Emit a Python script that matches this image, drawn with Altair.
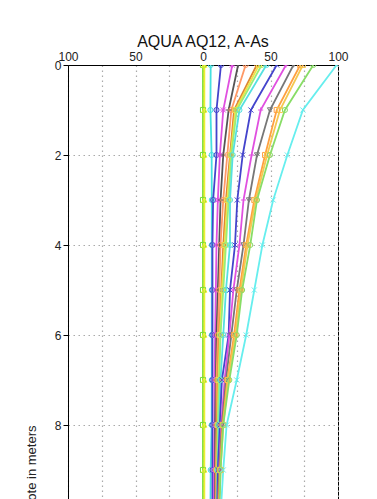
import altair as alt
import pandas as pd

depths = [0, 1, 2, 3, 4, 5, 6, 7, 8, 9, 10, 11, 12]

series_names = ["S01", "S02", "S03", "S04", "S05", "S06", "S07", "S08", "S09",
                "S10", "S11", "S12", "S13", "S14", "S15", "S16", "S17", "S18"]

s01 = [0, 0, 0, 0, 0, 0, 0, 0, 0, 0, 0, 0, 0]
s02 = [1, 1, 1, 1, 1, 1, 1, 1, 1, 1, 1, 1, 1]
s03 = [5.7, 5.5, 6.4, 6.5, 6.5, 6.5, 6.5, 6.5, 6.4, 5.7, 5.5, 5.5, 5.5]
s04 = [13.3, 10, 10, 7.5, 7, 7, 7, 7, 7, 7, 7, 7, 7]
s05 = [21.7, 15, 12.5, 11, 10, 9.5, 9, 8.5, 8.5, 8, 8, 8, 8]
s06 = [26, 19, 15, 13, 12, 11, 10, 9.5, 9, 9, 9, 9, 9]
s07 = [31.6, 21, 18, 15, 13, 12, 11, 10, 10, 9.5, 9.5, 9, 9]
s08 = [39.8, 23, 20, 17, 15, 13.5, 12, 11, 10.5, 10, 10, 10, 10]
s09 = [41.5, 24, 20.5, 18, 16, 14, 12.5, 11.5, 11, 10.5, 10, 10, 10]
s10 = [43.5, 25, 21, 19, 17, 15, 13, 12, 11, 10.5, 10, 10, 10]
s11 = [47, 27, 22, 20, 20, 17, 15, 13, 12, 11, 10.5, 10, 10]
s12 = [54.6, 35.5, 29.4, 25.4, 23.7, 20, 19, 14, 12.5, 11, 10.5, 10, 10]
s13 = [61.5, 42.7, 36, 30, 27, 22.5, 19.5, 16, 13.5, 12, 11, 10.5, 10]
s14 = [67, 49.6, 40, 34, 30, 25, 21, 17, 14, 12, 11, 10.5, 10]
s15 = [72, 54.6, 46, 38, 32, 27, 23, 18, 14.5, 12.5, 11.5, 11, 10.5]
s16 = [74, 57, 47.5, 39, 33, 28, 24, 18.5, 15, 13, 12, 11, 10.5]
s17 = [81.7, 60.7, 49.6, 40, 35, 29, 25, 19.5, 15, 13, 12, 11, 10.5]
s18 = [99, 74, 62.5, 52, 44, 38, 32, 25, 17.5, 15, 13, 11.5, 10.5]

all_values = [s01, s02, s03, s04, s05, s06, s07, s08, s09,
              s10, s11, s12, s13, s14, s15, s16, s17, s18]

colors = ["#77dd33", "#eeee33", "#44e0e0", "#4444cc", "#e050e0", "#555555",
          "#ff9966", "#dd8833", "#f2e24a", "#99ee77", "#55e0e0", "#4444cc",
          "#e050e0", "#777777", "#ffa040", "#f5c850", "#88dd66", "#66eeee"]
widths = [1.8, 1.8, 0.9, 0.9, 0.9, 0.9, 0.9, 1.1, 1.8, 1.8, 0.9, 0.9, 0.9, 0.9, 1.5, 1.5, 0.9, 0.9]

X_PATH = "M-1,-1L1,1M-1,1L1,-1"
PLUS_PATH = "M-1,0L1,0M0,-1L0,1"
STAR_PATH = "M-1,-1L1,1M-1,1L1,-1M-1.2,0L1.2,0M0,-1.2L0,1.2"
shapes = ["square", "triangle-up", "circle", "circle", STAR_PATH, PLUS_PATH,
          "circle", "diamond", "square", "circle", "circle", X_PATH,
          PLUS_PATH, "triangle-down", "square", "square", "circle", X_PATH]

x_ticks = [-100, -75, -50, -25, 0, 25, 50, 75, 100]
y_ticks = [0, 2, 4, 6, 8, 10, 12, 14, 16, 18, 20]

rows = []
for name, vals in zip(series_names, all_values):
    for d, v in zip(depths, vals):
        rows.append({"series": name, "depth": d, "value": v})
df = pd.DataFrame(rows)

FONT = "Liberation Sans, Arial, sans-serif"

x_enc = alt.X(
    "value:Q",
    scale=alt.Scale(domain=[-100, 100], nice=False, zero=False),
    axis=alt.Axis(
        orient="top", values=x_ticks, ticks=False, labelPadding=2,
        labelExpr="datum.value % 50 == 0 ? '' + abs(datum.value) : ''",
        grid=True, gridDash=[1.5, 3.5], gridColor="#aaaaaa", gridWidth=1.2,
        domainColor="#000000", labelColor="#222222", labelFontSize=12,
        labelFont=FONT, title=None, labelFlush=False, labelOverlap=False,
    ),
)
y_enc = alt.Y(
    "depth:Q",
    scale=alt.Scale(domain=[0, 20], reverse=True, nice=False),
    axis=alt.Axis(
        values=y_ticks, tickSize=5, tickColor="#000000", labelPadding=2,
        grid=True, gridDash=[1.5, 3.5], gridColor="#aaaaaa", gridWidth=1.2,
        domainColor="#000000", labelColor="#222222", labelFontSize=12,
        labelFont=FONT, title="Depth relative to kote in meters",
        titleFont=FONT, titleFontSize=13, titleFontWeight="normal",
        titleColor="#222222", titlePadding=9, labelFlush=False,
    ),
)
color_enc = alt.Color("series:N", scale=alt.Scale(domain=series_names, range=colors), legend=None)

lines = alt.Chart(df).mark_line(clip=True).encode(
    x=x_enc, y=y_enc, color=color_enc,
    strokeWidth=alt.StrokeWidth("series:N", scale=alt.Scale(domain=series_names, range=widths), legend=None),
    order=alt.Order("depth:Q"),
    detail="series:N",
)
points = alt.Chart(df).mark_point(filled=False, size=26, strokeWidth=1, opacity=1, clip=True).encode(
    x=x_enc, y=y_enc, color=color_enc,
    shape=alt.Shape("series:N", scale=alt.Scale(domain=series_names, range=shapes), legend=None),
)

chart = alt.layer(lines, points).properties(
    width=270, height=900,
    title=alt.TitleParams("AQUA AQ12, A-As", fontSize=16, font=FONT, fontWeight="normal",
                          color="#111111", anchor="middle", offset=0),
    autosize=alt.AutoSizeParams(type="none"),
    padding={"left": 60, "top": 57, "right": 31, "bottom": 20},
    background="white",
).configure_view(stroke="#000000", strokeWidth=1)

chart.save("out.html", embed_options={"renderer": "svg", "actions": False})
